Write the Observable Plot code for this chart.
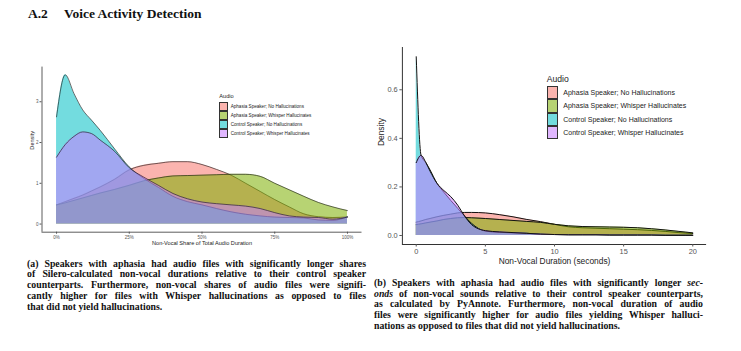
<!DOCTYPE html>
<html><head><meta charset="utf-8">
<script src="https://cdn.jsdelivr.net/npm/d3@7"></script>
<script src="https://cdn.jsdelivr.net/npm/@observablehq/plot@0.6"></script>
<style>
html,body{margin:0;padding:0;background:#fff}
body{width:741px;height:351px;position:relative;overflow:hidden;font-family:"Liberation Sans",Arial,sans-serif}
.abs{position:absolute}
.head{position:absolute;top:7px;font-family:"Liberation Serif",serif;font-weight:bold;font-size:13.5px;line-height:14px;color:#111;white-space:nowrap}
.cap{position:absolute;font-family:"Liberation Serif",serif;font-weight:bold;color:#111;font-size:9.8px;line-height:10.8px}
.cap div{text-align:justify;text-align-last:justify;height:10.8px;overflow:visible}
.cap div.last{text-align-last:left}
.leg{position:absolute;color:#222;white-space:nowrap}
.leg .sw{position:absolute;box-sizing:border-box;border:1px solid #333}
.leg .lb{position:absolute;color:#222}
</style>
</head><body>
<div class="head" style="left:28px">A.2</div>
<div class="head" style="left:64px">Voice Activity Detection</div>
<div id="left" class="abs" style="left:0;top:55px"></div>
<div id="right" class="abs" style="left:370px;top:40px"></div>
<div id="legL" class="leg"></div>
<div id="legR" class="leg"></div>
<div class="cap" style="left:27px;top:258.6px;width:339px">
<div>(a) Speakers with aphasia had audio files with significantly longer shares</div>
<div>of Silero-calculated non-vocal durations relative to their control speaker</div>
<div>counterparts. Furthermore, non-vocal shares of audio files were signifi-</div>
<div>cantly higher for files with Whisper hallucinations as opposed to files</div>
<div class="last">that did not yield hallucinations.</div>
</div>
<div class="cap" style="left:374px;top:277.9px;width:329px">
<div>(b) Speakers with aphasia had audio files with significantly longer <i>sec-</i></div>
<div><i>onds</i> of non-vocal sounds relative to their control speaker counterparts,</div>
<div>as calculated by PyAnnote. Furthermore, non-vocal duration of audio</div>
<div>files were significantly higher for audio files yielding Whisper halluci-</div>
<div class="last">nations as opposed to files that did not yield hallucinations.</div>
</div>
<script>
// ---- data ----
const categories = [
  "Aphasia Speaker; No Hallucinations",
  "Aphasia Speaker; Whisper Hallucinates",
  "Control Speaker; No Hallucinations",
  "Control Speaker; Whisper Hallucinates"
];
const colors = ["#F8766D", "#7CAE00", "#00BFC4", "#C77CFF"];

// (a) non-vocal share of total audio duration
const shareX =         [0,    0.03, 0.06, 0.09, 0.12, 0.15, 0.2,  0.25, 0.3,  0.35, 0.4,  0.45, 0.5,  0.55, 0.6,  0.65, 0.7,  0.75, 0.8,  0.85, 0.9,  0.95, 1.0];
const shareAphNo =     [0.47, 0.55, 0.63, 0.71, 0.81, 0.91, 1.1,  1.33, 1.44, 1.49, 1.53, 1.53, 1.46, 1.34, 1.2,  1.0,  0.8,  0.6,  0.42, 0.25, 0.18, 0.16, 0.17];
const shareAphWhisper =[0.47, 0.52, 0.58, 0.64, 0.7,  0.76, 0.85, 0.95, 1.06, 1.13, 1.18, 1.19, 1.2,  1.21, 1.22, 1.22, 1.17, 1.0,  0.84, 0.68, 0.53, 0.42, 0.33];
const shareCtlNo =     [2.63, 3.66, 3.2,  2.8,  2.55, 2.3,  1.84, 1.4,  1.12, 0.9,  0.68, 0.55, 0.47, 0.38, 0.3,  0.24, 0.2,  0.17, 0.16, 0.15, 0.1,  0.09, 0.18];
const shareCtlWhisper =[1.64, 1.95, 2.15, 2.26, 2.22, 2.06, 1.78, 1.38, 1.15, 0.95, 0.75, 0.62, 0.54, 0.5,  0.47, 0.44, 0.38, 0.28, 0.2,  0.17, 0.16, 0.12, 0.17];

// (b) non-vocal duration (seconds)
const durX =           [0,     0.35,  0.7,   1,     1.5,   2,     2.5,   3,     3.5,   4,     5,     6,     7,     8,     9,     10,    11,    12,    13,    14,    15,    16,    17,    18,    19,    20];
const durAphNo =       [0.055, 0.06,  0.066, 0.07,  0.077, 0.083, 0.088, 0.093, 0.095, 0.095, 0.093, 0.086, 0.077, 0.066, 0.057, 0.046, 0.036, 0.032, 0.03,  0.028, 0.026, 0.024, 0.021, 0.017, 0.012, 0.008];
const durAphWhisper =  [0.045, 0.048, 0.052, 0.055, 0.06,  0.066, 0.07,  0.073, 0.074, 0.073, 0.07,  0.066, 0.062, 0.058, 0.054, 0.046, 0.04,  0.037, 0.036, 0.035, 0.034, 0.032, 0.028, 0.023, 0.017, 0.011];
const durCtlNo =       [0.736, 0.33,  0.3,   0.27,  0.215, 0.178, 0.144, 0.112, 0.08,  0.05,  0.018, 0.013, 0.011, 0.009, 0.005, 0.004, 0.003, 0.003, 0.003, 0.002, 0.002, 0.002, 0.002, 0.001, 0.001, 0.001];
const durCtlWhisper =  [0.30,  0.33,  0.3,   0.265, 0.215, 0.185, 0.16,  0.125, 0.08,  0.045, 0.02,  0.015, 0.012, 0.009, 0.006, 0.004, 0.003, 0.003, 0.003, 0.002, 0.002, 0.002, 0.002, 0.001, 0.001, 0.001];

// tick values
const shareTicksX = [0, 0.25, 0.5, 0.75, 1];
const shareTicksY = [0, 1, 2, 3];
const durTicksX = [0, 5, 10, 15, 20];
const durTicksY = [0, 0.2, 0.4, 0.6];

function toRows(xs, seriesList) {
  const out = [];
  seriesList.forEach((ys, i) => xs.forEach((x, j) => out.push({cat: categories[i], x, y: ys[j]})));
  return out;
}
const shareData = toRows(shareX, [shareAphNo, shareAphWhisper, shareCtlNo, shareCtlWhisper]);
const durData = toRows(durX, [durAphNo, durAphWhisper, durCtlNo, durCtlWhisper]);

function densityPlot(o) {
  const marks = [];
  categories.forEach((c, i) => {
    const d = o.data.filter(r => r.cat === c);
    marks.push(Plot.areaY(d, {x: "x", y: "y", fill: colors[i], fillOpacity: 0.55, curve: "monotone-x"}));
    marks.push(Plot.lineY(d, {x: "x", y: "y", stroke: "#111", strokeWidth: o.lw, curve: "monotone-x"}));
  });
  marks.push(Plot.ruleX([o.xDomain[0]], {stroke: "#333", strokeWidth: o.axw}));
  marks.push(Plot.ruleY([o.yDomain[0]], {stroke: "#333", strokeWidth: o.axw}));
  marks.push(Plot.axisX({ticks: o.xTicks, tickFormat: o.xFmt, tickSize: o.tickSize, tickPadding: o.tickPad, fontSize: o.tickFs, color: "#555", label: null}));
  marks.push(Plot.axisY({ticks: o.yTicks, tickFormat: o.yFmt, tickSize: o.tickSize, tickPadding: o.tickPad, fontSize: o.tickFs, color: "#555", label: null}));
  marks.push(Plot.text([o.xLabel], {frameAnchor: "bottom", text: d => d, dy: o.xLabDy, lineAnchor: "middle", fontSize: o.labFs, fill: "#222"}));
  marks.push(Plot.text([o.yLabel], {frameAnchor: "left", text: d => d, dx: o.yLabDx, rotate: -90, lineAnchor: "middle", fontSize: o.labFs, fill: "#222"}));
  return Plot.plot({
    width: o.width, height: o.height,
    marginLeft: o.m[0], marginRight: o.m[1], marginTop: o.m[2], marginBottom: o.m[3],
    x: {domain: o.xDomain}, y: {domain: o.yDomain},
    style: {background: "transparent", fontFamily: "'Liberation Sans', Arial, sans-serif", overflow: "visible"},
    marks
  });
}

document.getElementById("left").append(densityPlot({
  data: shareData, width: 370, height: 195, m: [41.5, 8.5, 11.6, 18.3],
  xDomain: [-0.05, 1.05], yDomain: [-0.2, 3.85],
  xTicks: shareTicksX, yTicks: shareTicksY, xFmt: d3.format(".0%"), yFmt: d3.format("d"),
  tickSize: 2, tickPad: 1.5, tickFs: 4.5, labFs: 5.6, lw: 0.6, axw: 0.8,
  xLabel: "Non-Vocal Share of Total Audio Duration", yLabel: "Density", xLabDy: 11, yLabDx: -9.5
}));

document.getElementById("right").append(densityPlot({
  data: durData, width: 371, height: 228, m: [31.9, 34.9, 7, 24],
  xDomain: [-1, 21], yDomain: [-0.037, 0.774],
  xTicks: durTicksX, yTicks: durTicksY, xFmt: d3.format("d"), yFmt: d3.format(".1f"),
  tickSize: 2.5, tickPad: 2.2, tickFs: 7.4, labFs: 8.4, lw: 1, axw: 1,
  xLabel: "Non-Vocal Duration (seconds)", yLabel: "Density", xLabDy: 16.5, yLabDx: -20.9
}));

function legend(el, o) {
  el.style.left = o.x + "px"; el.style.top = o.y + "px";
  const t = document.createElement("div");
  t.className = "lb"; t.textContent = "Audio";
  t.style.cssText = `left:0;top:${-o.titleFs * 1.3}px;font-size:${o.titleFs}px;line-height:${o.titleFs}px`;
  el.append(t);
  categories.forEach((c, i) => {
    const s = document.createElement("div");
    s.className = "sw";
    s.style.cssText = `left:0;top:${i * o.rowH}px;width:${o.swW}px;height:${o.rowH}px;background:${d3.color(colors[i]).copy({opacity: 0.55})}`;
    el.append(s);
    const l = document.createElement("div");
    l.className = "lb"; l.textContent = c;
    l.style.cssText = `left:${o.labX}px;top:${i * o.rowH}px;font-size:${o.fs}px;line-height:${o.rowH}px`;
    el.append(l);
  });
}
legend(document.getElementById("legL"), {x: 219.3, y: 101.7, rowH: 9, swW: 9, labX: 11.4, fs: 4.6, titleFs: 5.6});
legend(document.getElementById("legR"), {x: 546.7, y: 86, rowH: 13.3, swW: 11.6, labX: 16.6, fs: 7, titleFs: 8.6});
</script>
</body></html>
